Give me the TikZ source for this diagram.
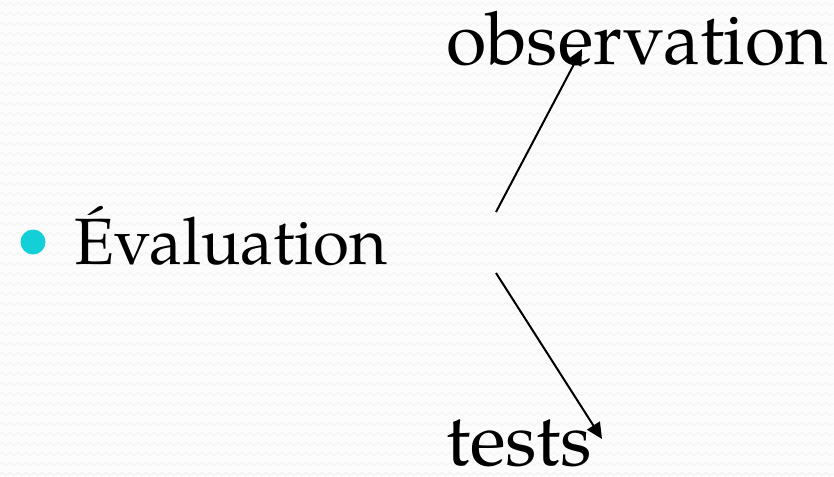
\documentclass[tikz,border=0pt]{standalone}
\usepackage{fontspec}
\setmainfont{TeX Gyre Pagella}
\usetikzlibrary{arrows.meta,decorations.pathmorphing}
\definecolor{bullcyan}{HTML}{12CFD8}
\definecolor{zigcol}{HTML}{F1F1F1}
\tikzset{
  word/.style={inner sep=0pt, anchor=base west, text=black},
  connector/.style={draw=black, line width=2pt,
    -{Triangle[length=16pt,width=15pt]}},
  bgzig/.style={draw=zigcol, line width=0.8pt, decorate,
    decoration={zigzag, segment length=8pt, amplitude=1.6pt}}
}
\begin{document}
\begin{tikzpicture}[x=1pt,y=-1pt]
  % page and faint textured background
  \fill[white!99!black] (0,0) rectangle (834,476);
  \useasboundingbox (0,0) rectangle (834,476);
  \foreach \yy in {4,14,...,480} {
    \draw[bgzig] (0,\yy) -- (834,\yy);
  }
  % bullet
  \fill[bullcyan] (33,242) circle (12.5);
  % arrow end points
  \coordinate (upfrom) at (496,212);
  \coordinate (upto) at (582,49);
  \coordinate (downfrom) at (496,273);
  \coordinate (downto) at (602,439);
  \path[connector] (upfrom) -- (upto);
  \path[connector] (downfrom) -- (downto);
  % labels
  \node[word, font=\fontsize{65.5}{65.5}\selectfont] (evaluation) at (74,264) {Évaluation};
  \node[word, font=\fontsize{73.5}{73.5}\selectfont] (observation) at (446,65) {observation};
  \node[word, font=\fontsize{74}{74}\selectfont] (tests) at (446,465) {tests};
\end{tikzpicture}
\end{document}
